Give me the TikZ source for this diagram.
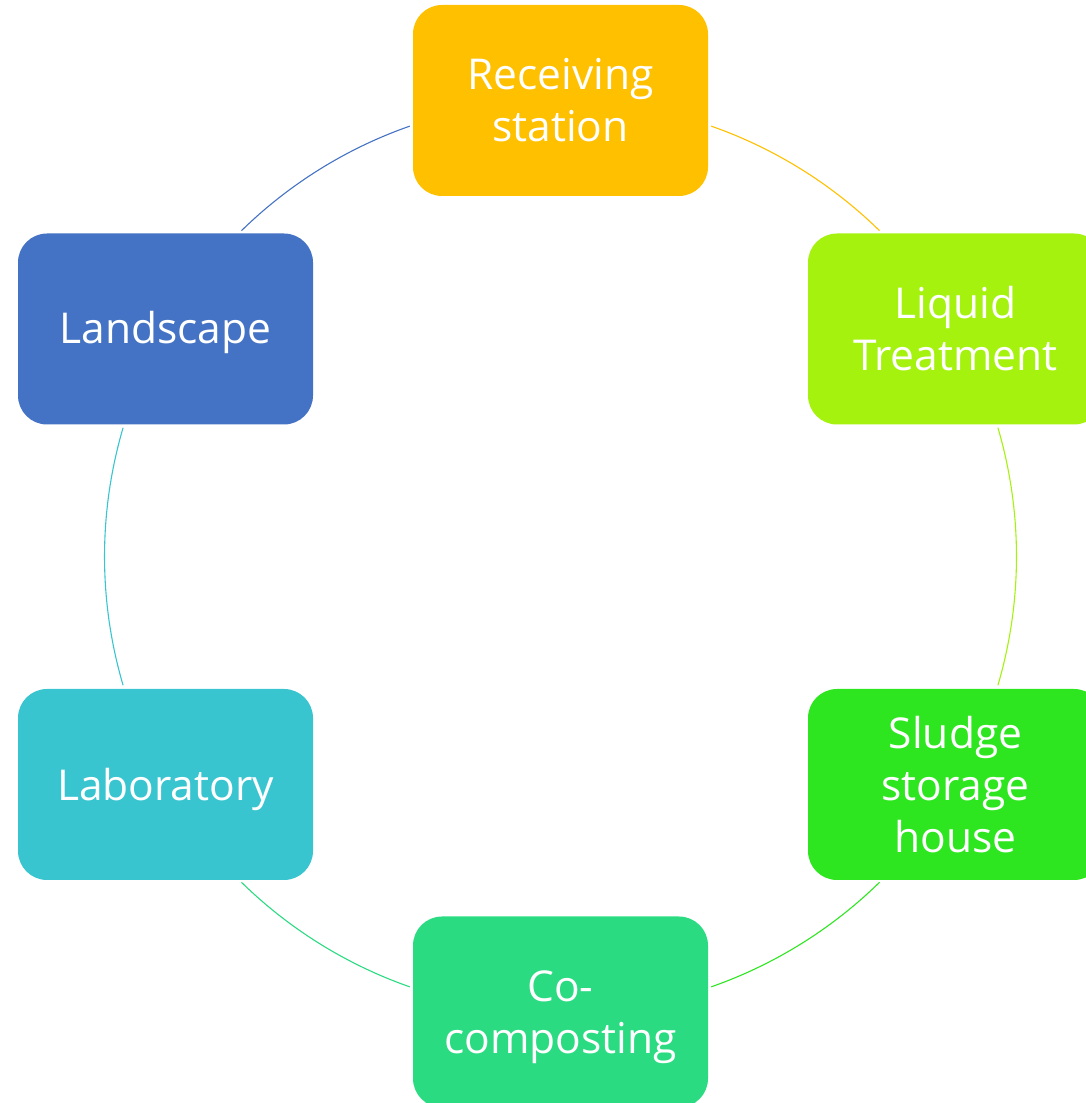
\documentclass[tikz,border=0pt]{standalone}
\usepackage{fontspec}
\setmainfont{Open Sans}
\definecolor{cRec}{HTML}{FFC000}
\definecolor{cLiq}{HTML}{A5F20F}
\definecolor{cSlu}{HTML}{2EE620}
\definecolor{cCo}{HTML}{2BDB82}
\definecolor{cLab}{HTML}{39C5D0}
\definecolor{cLan}{HTML}{4472C4}
\begin{document}
\begin{tikzpicture}[x=1pt,y=1pt,
  box/.style={rounded corners=29pt, minimum width=295pt, minimum height=191pt, inner sep=0pt},
  txt/.style={align=center, text=white, font=\fontsize{42.5}{52}\selectfont, inner sep=0pt},
  link/.style={line width=1.1pt}]
\useasboundingbox (0,0) rectangle (1086,1103);
\clip (0,0) rectangle (1086,1103);
\coordinate (c) at (560.5,546.5);
\node[box, fill=cRec, label={[txt]center:{Receiving\\station}}] (rec) at (560.5,1002.5) {};
\node[box, fill=cLiq, label={[txt]center:{Liquid\\Treatment}}] (liq) at (955.5,774) {};
\node[box, fill=cSlu, label={[txt]center:{Sludge\\storage\\house}}] (slu) at (955.5,318.5) {};
\node[box, fill=cCo, label={[txt, yshift=-5pt]center:{Co-\\composting}}] (co) at (560.5,91) {};
\node[box, fill=cLab, label={[txt, yshift=-5pt]center:{Laboratory}}] (lab) at (165.5,318.5) {};
\node[box, fill=cLan, label={[txt, yshift=-3pt]center:{Landscape}}] (lan) at (165.5,774) {};
\path (c) ++(70.7:456) coordinate (a1);
\path (c) ++(16.4:456) coordinate (a2);
\path (c) ++(-45.6:456) coordinate (a3);
\path (c) ++(-109.3:456) coordinate (a4);
\path (c) ++(196.4:456) coordinate (a5);
\path (c) ++(134.4:456) coordinate (a6);
\draw[link, cRec] (a1) arc[start angle=70.7, end angle=45.6, radius=456];
\draw[link, cLiq] (a2) arc[start angle=16.4, end angle=-16.4, radius=456];
\draw[link, cSlu] (a3) arc[start angle=-45.6, end angle=-70.7, radius=456];
\draw[link, cCo] (a4) arc[start angle=-109.3, end angle=-134.4, radius=456];
\draw[link, cLab] (a5) arc[start angle=196.4, end angle=163.6, radius=456];
\draw[link, cLan] (a6) arc[start angle=134.4, end angle=109.3, radius=456];
\end{tikzpicture}
\end{document}
